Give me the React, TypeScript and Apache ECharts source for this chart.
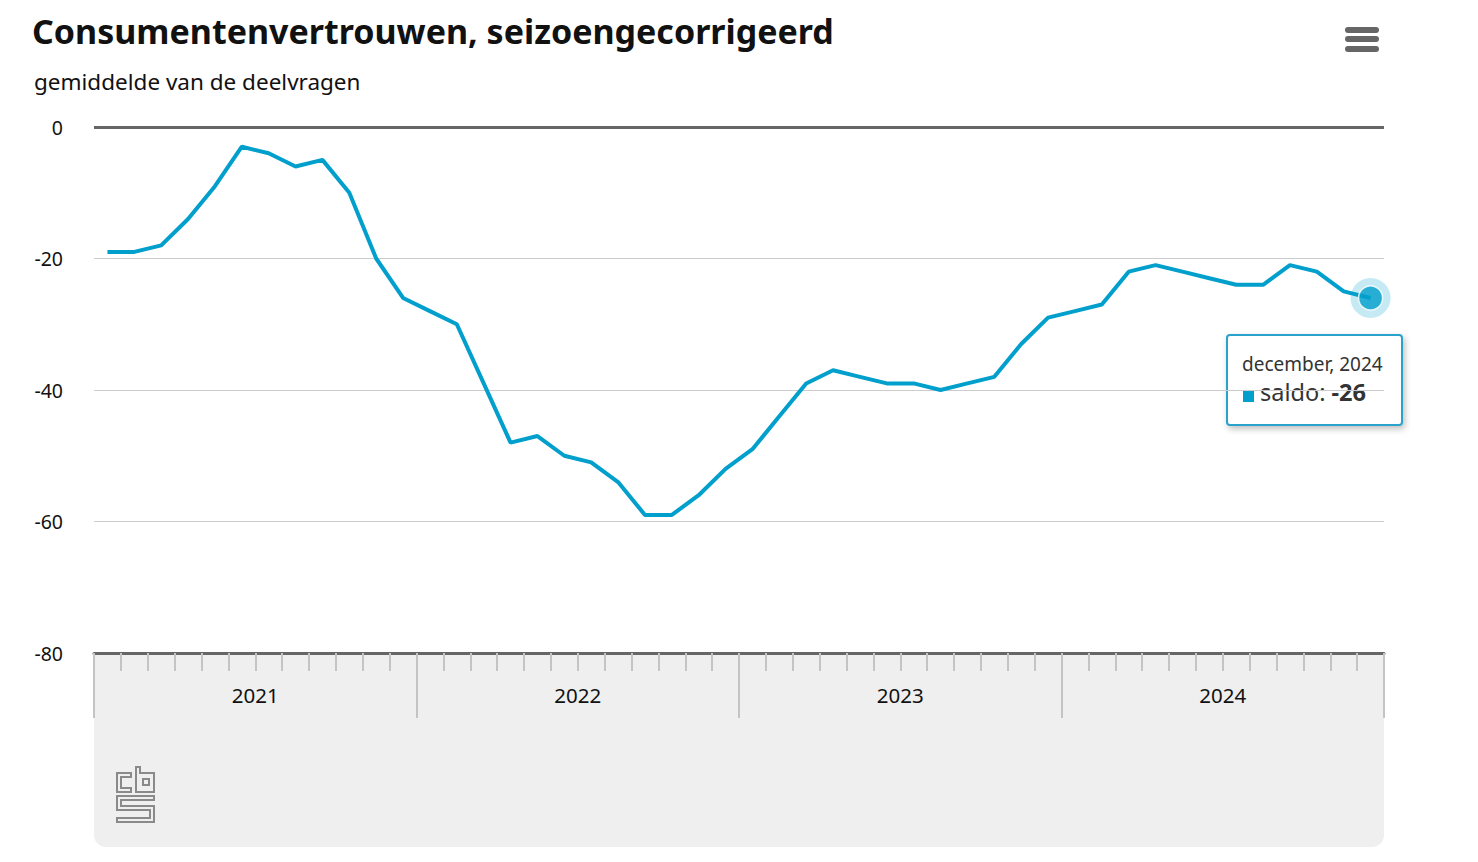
import React, { useEffect, useRef } from "react";
import * as echarts from "echarts";

const years = ["2021", "2022", "2023", "2024"];
const monthNames = ["januari", "februari", "maart", "april", "mei", "juni", "juli", "augustus", "september", "oktober", "november", "december"];
const categories = years.flatMap((y) => monthNames.map((m) => `${m}, ${y}`));

const saldo = [
  -19, -19, -18, -14, -9, -3, -4, -6, -5, -10, -20, -26,
  -28, -30, -39, -48, -47, -50, -51, -54, -59, -59, -56, -52,
  -49, -44, -39, -37, -38, -39, -39, -40, -39, -38, -33, -29,
  -28, -27, -22, -21, -22, -23, -24, -24, -21, -22, -25, -26,
];

const yTicks = { min: -80, max: 0, interval: 20 };

const TITLE = "Consumentenvertrouwen, seizoengecorrigeerd";
const SUBTITLE = "gemiddelde van de deelvragen";
const BLUE = "#009fcc";
const FONT = "'Noto Sans', 'Open Sans', sans-serif";

export default function App() {
  const ref = useRef<HTMLDivElement>(null);
  useEffect(() => {
    document.body.style.margin = "0";
    const chart = echarts.init(ref.current!, null, { renderer: "svg" });
    const last = saldo.length - 1;
    const logo = { x: 117, y: 767 };
    const g = "#8a8a8a";
    chart.setOption({
      animation: false,
      textStyle: { fontFamily: FONT },
      grid: { left: 94, right: 94, top: 127, bottom: 209, containLabel: false },
      xAxis: [
        {
          type: "category",
          data: categories,
          position: "bottom",
          boundaryGap: true,
          axisLine: { show: true, onZero: false, lineStyle: { color: "#666", width: 3 } },
          axisTick: { show: true, interval: 0, length: 18, lineStyle: { color: "#c4c4c4", width: 2 } },
          axisLabel: { show: false },
          splitLine: { show: false },
          z: 5,
        },
        {
          type: "category",
          data: years,
          position: "bottom",
          boundaryGap: true,
          axisLine: { show: false, onZero: false },
          axisTick: { show: true, interval: 0, length: 65, lineStyle: { color: "#c4c4c4", width: 2 } },
          axisLabel: { show: true, margin: 31, fontSize: 20.5, color: "#111", fontFamily: FONT },
          splitLine: { show: false },
          z: 4,
        },
      ],
      yAxis: {
        type: "value",
        min: yTicks.min,
        max: yTicks.max,
        interval: yTicks.interval,
        axisLine: { show: false },
        axisTick: { show: false },
        axisLabel: { margin: 31, fontSize: 19.5, color: "#111", fontFamily: FONT },
        splitLine: { show: true, lineStyle: { color: "#cccccc", width: 1 } },
      },
      series: [
        {
          type: "line",
          data: saldo,
          xAxisIndex: 0,
          showSymbol: false,
          symbol: "none",
          lineStyle: { color: BLUE, width: 4 },
          z: 3,
          markLine: {
            silent: true,
            symbol: "none",
            label: { show: false },
            lineStyle: { color: "#666", width: 3, type: "solid" },
            data: [{ yAxis: 0 }],
          },
        },
        {
          type: "scatter",
          xAxisIndex: 0,
          data: [[last, saldo[last]]],
          symbolSize: 40,
          itemStyle: { color: "rgba(0,159,204,0.28)" },
          z: 6,
          silent: true,
        },
        {
          type: "scatter",
          xAxisIndex: 0,
          data: [[last, saldo[last]]],
          symbolSize: 24,
          itemStyle: { color: BLUE, borderColor: "#ffffff", borderWidth: 1.5 },
          z: 7,
          silent: true,
        },
      ],
      graphic: [
        {
          type: "rect",
          z: -10,
          silent: true,
          shape: { x: 94, y: 653, width: 1290, height: 194, r: [0, 0, 12, 12] },
          style: { fill: "#efefef" },
        },
        {
          type: "text",
          left: 32,
          top: 14,
          style: { text: TITLE, font: `bold 34px ${FONT}`, fill: "#111" },
        },
        {
          type: "text",
          left: 34,
          top: 70,
          style: { text: SUBTITLE, font: `22.5px ${FONT}`, fill: "#111" },
        },
        ...[27, 36, 46].map((yy) => ({
          type: "rect",
          shape: { x: 1345, y: yy, width: 34, height: 6, r: 3 },
          style: { fill: "#666" },
        })),
        {
          type: "group",
          x: logo.x,
          y: logo.y,
          children: [
            { type: "polygon", shape: { points: [[0, 6], [14, 6], [14, 10], [4, 10], [4, 21], [14, 21], [14, 25], [0, 25]] }, style: { fill: "none", stroke: g, lineWidth: 2 } },
            { type: "polygon", shape: { points: [[19, 0], [23, 0], [23, 6], [37, 6], [37, 25], [19, 25]] }, style: { fill: "none", stroke: g, lineWidth: 2 } },
            { type: "rect", shape: { x: 26, y: 12, width: 6, height: 6 }, style: { fill: "none", stroke: g, lineWidth: 2 } },
            { type: "polygon", shape: { points: [[0, 29], [37, 29], [37, 33], [4, 33], [4, 39], [37, 39], [37, 55], [0, 55], [0, 51], [33, 51], [33, 43], [0, 43]] }, style: { fill: "none", stroke: g, lineWidth: 2 } },
          ],
        },
        {
          type: "group",
          x: 1227,
          y: 335,
          z: 100,
          children: [
            {
              type: "rect",
              shape: { x: 0, y: 0, width: 175, height: 90, r: 3 },
              style: { fill: "#ffffff", stroke: "#2aa3cc", lineWidth: 2, shadowBlur: 6, shadowOffsetX: 2, shadowOffsetY: 3, shadowColor: "rgba(0,0,0,0.25)" },
            },
            {
              type: "text",
              x: 15,
              y: 19,
              style: { text: `${monthNames[11]}, ${years[3]}`, font: `19px ${FONT}`, fill: "#333" },
            },
            { type: "rect", shape: { x: 16, y: 56, width: 11, height: 11 }, style: { fill: BLUE } },
            {
              type: "text",
              x: 33,
              y: 45,
              style: {
                text: `{a|saldo: }{b|${saldo[last]}}`,
                rich: {
                  a: { fontSize: 23.5, fontFamily: FONT, fill: "#333", color: "#333" },
                  b: { fontSize: 23.5, fontFamily: FONT, fontWeight: "bold", fill: "#333", color: "#333" },
                },
              },
            },
          ],
        },
      ],
    });
    return () => chart.dispose();
  }, []);
  return <div ref={ref} style={{ position: "absolute", left: 0, top: 0, width: 1478, height: 862 }} />;
}
